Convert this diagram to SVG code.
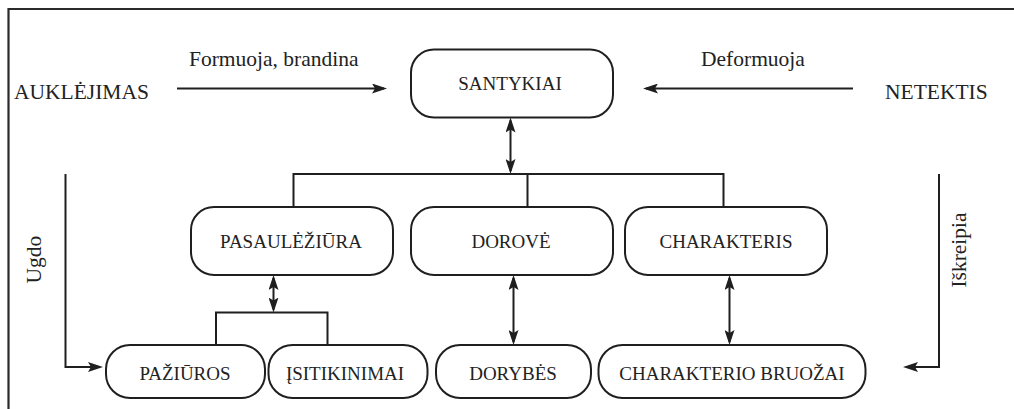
<svg xmlns="http://www.w3.org/2000/svg" width="1014" height="409" viewBox="0 0 1014 409">
<style>
.frame{fill:none;stroke:#2a2a2a;stroke-width:2.2}
.box{fill:#fff;stroke:#1f1f1f;stroke-width:2}
.ln{fill:none;stroke:#1f1f1f;stroke-width:2}
.lbl{font-family:"Liberation Serif","Times New Roman",serif;font-size:19px;fill:#222;text-anchor:middle}
.big{font-family:"Liberation Serif","Times New Roman",serif;font-size:21.5px;fill:#222}
</style>
<defs>
<marker id="ah" viewBox="0 0 15 10" refX="12" refY="5" markerWidth="15" markerHeight="10" markerUnits="userSpaceOnUse" orient="auto-start-reverse">
<path d="M0,0 L15,5 L0,10 L3,5 Z" fill="#1f1f1f"/>
</marker>
</defs>
<rect width="1014" height="409" fill="#fff"/>
<path class="frame" d="M8.5,409 V9 H1014"/>

<g id="connectors">
<line class="ln" x1="177" y1="88.5" x2="384" y2="88.5" marker-end="url(#ah)"/>
<line class="ln" x1="853" y1="88.5" x2="646" y2="88.5" marker-end="url(#ah)"/>
<line class="ln" x1="510.5" y1="120.5" x2="510.5" y2="171" marker-start="url(#ah)" marker-end="url(#ah)"/>
<path class="ln" d="M293.5,207 V174 H723.5 V207 M527.5,174 V207"/>
<line class="ln" x1="273.5" y1="278" x2="273.5" y2="309.5" marker-start="url(#ah)" marker-end="url(#ah)"/>
<path class="ln" d="M216,345 V312.5 H327.5 V345"/>
<line class="ln" x1="513.5" y1="278" x2="513.5" y2="342" marker-start="url(#ah)" marker-end="url(#ah)"/>
<line class="ln" x1="729.5" y1="278" x2="729.5" y2="342" marker-start="url(#ah)" marker-end="url(#ah)"/>
<path class="ln" d="M65.5,174 V367 H100" marker-end="url(#ah)"/>
<path class="ln" d="M939,174 V367 H906" marker-end="url(#ah)"/>
<text class="big" x="189" y="66">Formuoja, brandina</text>
<text class="big" x="701" y="66">Deformuoja</text>
<text class="big" text-anchor="middle" transform="translate(41,259.7) rotate(-90)">Ugdo</text>
<text class="big" text-anchor="middle" transform="translate(966,250) rotate(-90)">Iškreipia</text>
</g>

<g id="aukle">
<text class="big" x="14" y="99">AUKLĖJIMAS</text>
</g>
<g id="netektis">
<text class="big" x="885" y="99">NETEKTIS</text>
</g>
<g id="santykiai">
<rect class="box" x="411" y="49.5" width="202" height="68" rx="23"/>
<text class="lbl" x="510" y="90">SANTYKIAI</text>
</g>
<g id="pasaulieziura">
<rect class="box" x="191" y="207" width="202" height="68" rx="23"/>
<text class="lbl" x="291" y="248">PASAULĖŽIŪRA</text>
</g>
<g id="dorove">
<rect class="box" x="411" y="207" width="202" height="68" rx="23"/>
<text class="lbl" x="511" y="248">DOROVĖ</text>
</g>
<g id="charakteris">
<rect class="box" x="625" y="207" width="202" height="68" rx="23"/>
<text class="lbl" x="726" y="248">CHARAKTERIS</text>
</g>
<g id="paziuros">
<rect class="box" x="106" y="345" width="159" height="53" rx="24"/>
<text class="lbl" x="185" y="380">PAŽIŪROS</text>
</g>
<g id="isitikinimai">
<rect class="box" x="268.5" y="345" width="159" height="53" rx="24"/>
<text class="lbl" x="345" y="380">ĮSITIKINIMAI</text>
</g>
<g id="dorybes">
<rect class="box" x="436" y="345" width="155" height="53" rx="24"/>
<text class="lbl" x="513" y="380">DORYBĖS</text>
</g>
<g id="bruozai">
<rect class="box" x="598.5" y="345" width="267" height="53" rx="24"/>
<text class="lbl" x="732" y="380">CHARAKTERIO BRUOŽAI</text>
</g>
</svg>
